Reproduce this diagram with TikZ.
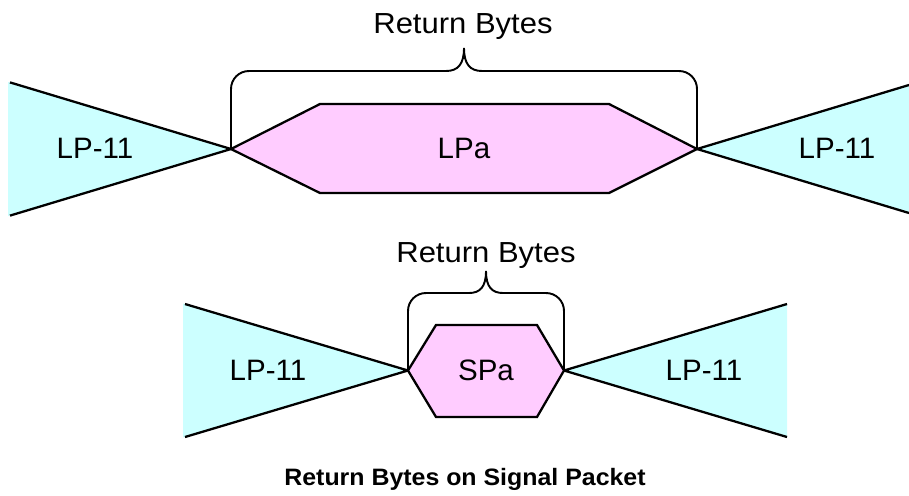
\documentclass[tikz,border=0pt]{standalone}
\usepackage{fontspec}
\setmainfont{Liberation Sans}
\newfontfamily\widefont[FakeStretch=1.07]{Liberation Sans}
\newfontfamily\capfont[FakeStretch=1.05]{Liberation Sans}
\usepackage{xcolor}
\definecolor{lpcyan}{HTML}{CCFFFF}
\definecolor{pktpink}{HTML}{FFCCFF}

\begin{document}
\begin{tikzpicture}[
  x=0.02cm, y=-0.02cm,
  line width=1.3pt, line join=miter,
  lpzone/.style={fill=lpcyan},
  packet/.style={fill=pktpink, draw=black},
  brace/.style={draw=black, line width=1.1pt},
  lbl/.style={font=\fontsize{16.8}{19}\selectfont, anchor=base, inner sep=0pt},
  rblbl/.style={font=\widefont\fontsize{16.5}{19}\selectfont, anchor=base, inner sep=0pt},
  caption/.style={font=\capfont\bfseries\fontsize{13.5}{16}\selectfont, anchor=base, inner sep=0pt}
]
  \useasboundingbox (0,0) rectangle (909,495);

  % long packet
  \fill[lpzone] (8,82) -- (231,149) -- (8,216) -- cycle;
  \draw (10,82.4) -- (231,149) -- (10,215.6);
  \fill[lpzone] (697,149) -- (909,85) -- (909,213) -- cycle;
  \draw (909,85) -- (697,149) -- (909,213);
  \draw[packet] (231,149) -- (320,104) -- (609,104) -- (697,149)
                -- (609,193) -- (320,193) -- cycle;
  \draw[brace] (231,149) -- (231,89) .. controls (231,79) and (239,71) .. (249,71)
    -- (446,71) .. controls (458,71) and (464,64) .. (464,48)
    .. controls (464,64) and (470,71) .. (482,71)
    -- (679,71) .. controls (689,71) and (697,79) .. (697,89) -- (697,149);

  \node[lbl] (lpA) at (95,158) {LP-11};
  \node[lbl] (lpa) at (464,158) {LPa};
  \node[lbl] (lpB) at (837,158) {LP-11};
  \node[rblbl] (rbLong) at (463,33) {Return Bytes};

  % short packet
  \fill[lpzone] (183,303.5) -- (408,370.5) -- (183,437.5) -- cycle;
  \draw (185,304) -- (408,370.5) -- (185,437);
  \fill[lpzone] (564,370.5) -- (787,304) -- (787,437) -- cycle;
  \draw (787,304) -- (564,370.5) -- (787,437);
  \draw[packet] (408,370.5) -- (436,325) -- (537,325) -- (564,370.5)
                -- (537,417) -- (436,417) -- cycle;
  \draw[brace] (408,370.5) -- (408,311) .. controls (408,301) and (416,293) .. (426,293)
    -- (469,293) .. controls (480,293) and (486,287) .. (486,271)
    .. controls (486,287) and (492,293) .. (503,293)
    -- (546,293) .. controls (556,293) and (564,301) .. (564,311) -- (564,370.5);

  \node[lbl] (spA) at (268,380) {LP-11};
  \node[lbl] (spa) at (486,380) {SPa};
  \node[lbl] (spB) at (704,380) {LP-11};
  \node[rblbl] (rbShort) at (486,262) {Return Bytes};

  \node[caption] (cap) at (465,485) {Return Bytes on Signal Packet};
\end{tikzpicture}
\end{document}
